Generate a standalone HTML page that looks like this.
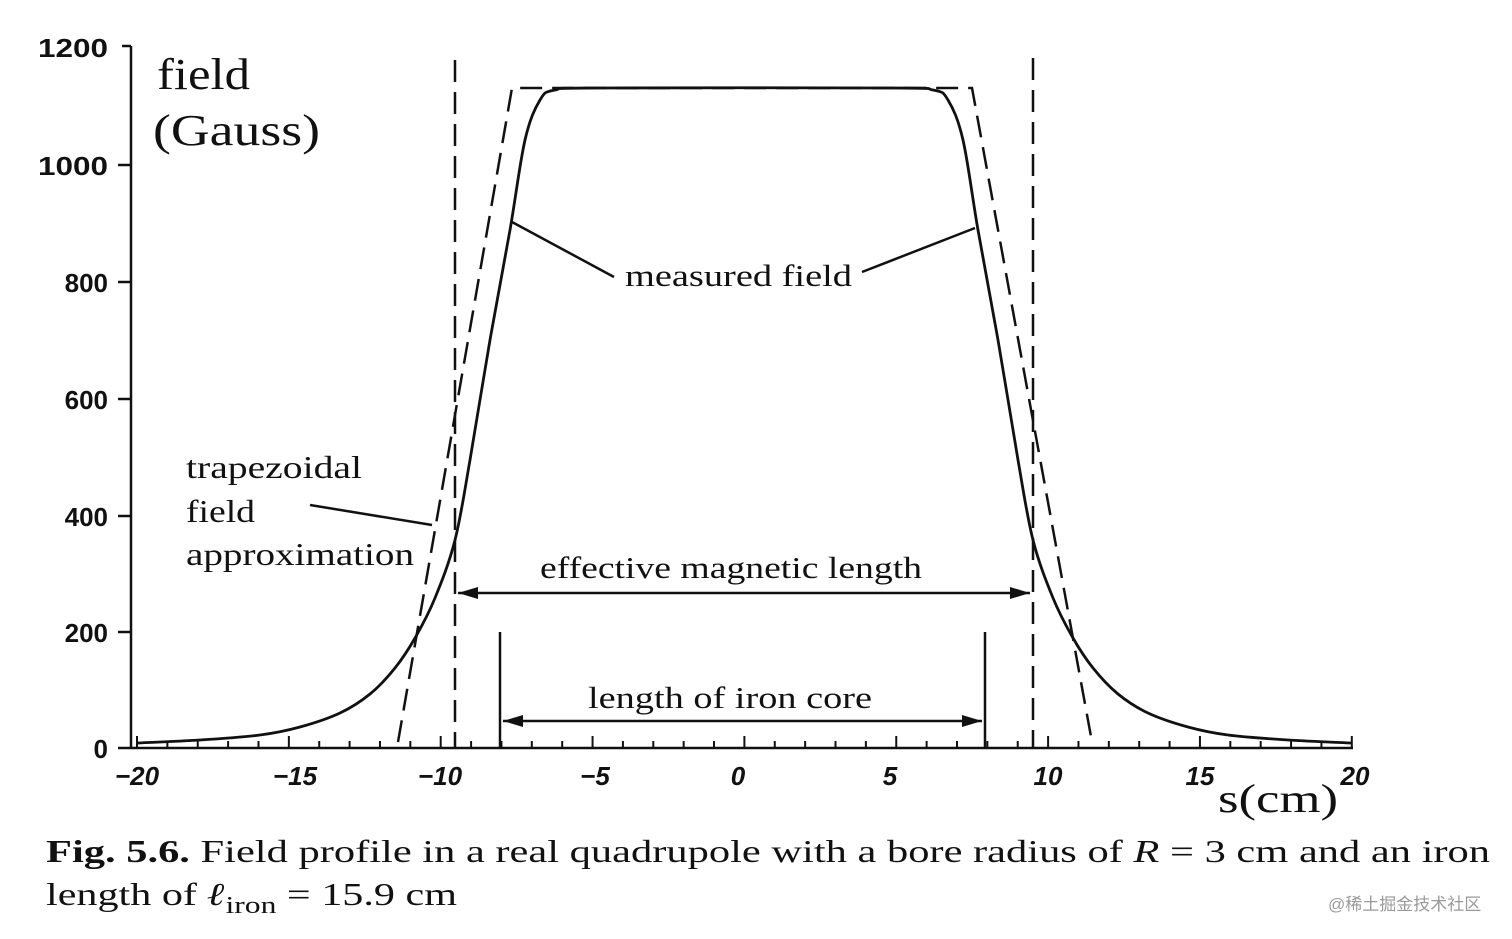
<!DOCTYPE html>
<html><head><meta charset="utf-8"><style>
html,body{margin:0;padding:0;background:#fff;}
svg{display:block}
.s{font-family:"Liberation Serif",serif;fill:#111}
.t{font-family:"Liberation Sans",sans-serif;fill:#111;font-size:26px}
</style></head><body>
<svg id="g" width="1512" height="939" viewBox="0 0 1512 939" xmlns="http://www.w3.org/2000/svg">
<rect width="1512" height="939" fill="#fff"/>
<g stroke="#111" stroke-width="2.5" fill="none">
<line x1="131" y1="46" x2="131" y2="749"/>
<line x1="118" y1="748" x2="1353" y2="748"/>
<line x1="131" y1="46" x2="122" y2="46"/>
<line x1="131" y1="165" x2="118" y2="165"/>
<line x1="131" y1="282" x2="118" y2="282"/>
<line x1="131" y1="399" x2="118" y2="399"/>
<line x1="131" y1="516" x2="118" y2="516"/>
<line x1="131" y1="632" x2="118" y2="632"/>
</g>
<g id="ticks" stroke="#111" stroke-width="2"></g>
<g class="t" text-anchor="end" font-weight="bold">
<text x="108" y="57" textLength="70" lengthAdjust="spacingAndGlyphs">1200</text><text x="108" y="175" textLength="70" lengthAdjust="spacingAndGlyphs">1000</text><text x="108" y="292">800</text>
<text x="108" y="409">600</text><text x="108" y="526">400</text><text x="108" y="642">200</text><text x="108" y="758">0</text>
</g>
<g class="t" text-anchor="middle" font-style="italic" font-weight="bold">
<text x="137" y="785">−20</text><text x="295" y="785">−15</text><text x="440" y="785">−10</text><text x="595" y="785">−5</text>
<text x="738" y="785">0</text><text x="890" y="785">5</text><text x="1048" y="785">10</text><text x="1200" y="785">15</text><text x="1355" y="785">20</text>
</g>
<g class="s" lengthAdjust="spacingAndGlyphs">
<text x="1218" y="812" font-size="40" textLength="120" lengthAdjust="spacingAndGlyphs">s(cm)</text>
<text x="157" y="89" font-size="44" textLength="93" lengthAdjust="spacingAndGlyphs">field</text>
<text x="153" y="145" font-size="44" textLength="167" lengthAdjust="spacingAndGlyphs">(Gauss)</text>
<text x="625" y="286" font-size="31" textLength="227" lengthAdjust="spacingAndGlyphs">measured  field</text>
<text x="186" y="478" font-size="32" textLength="176" lengthAdjust="spacingAndGlyphs">trapezoidal</text>
<text x="186" y="522" font-size="32" textLength="69" lengthAdjust="spacingAndGlyphs">field</text>
<text x="186" y="565" font-size="32" textLength="228" lengthAdjust="spacingAndGlyphs">approximation</text>
<text x="540" y="578" font-size="31" textLength="382" lengthAdjust="spacingAndGlyphs">effective  magnetic  length</text>
<text x="588" y="708" font-size="31" textLength="284" lengthAdjust="spacingAndGlyphs">length of iron core</text>
<text x="46" y="862" font-size="32" textLength="1444" lengthAdjust="spacingAndGlyphs"><tspan font-weight="bold">Fig. 5.6.</tspan> Field profile in a real quadrupole with a bore radius of <tspan font-style="italic">R</tspan> = 3 cm and an iron</text>
<text x="46" y="905" font-size="32" textLength="411" lengthAdjust="spacingAndGlyphs">length of <tspan font-style="italic" font-weight="bold">ℓ</tspan><tspan font-size="24" dy="8">iron</tspan><tspan dy="-8">  =  15.9  cm</tspan></text>
</g>
<text x="1328" y="910" font-family="Liberation Sans,'Noto Sans CJK SC',sans-serif" font-size="17" fill="#9a9a9a">@稀土掘金技术社区</text>
<g stroke="#111" stroke-width="2.5" fill="none">
<polyline points="398,742 512,88 972,88 1092,742" stroke-dasharray="22,10"/>
<line x1="455" y1="60" x2="455" y2="748" stroke-dasharray="22,10"/>
<line x1="1033" y1="58" x2="1033" y2="748" stroke-dasharray="22,10"/>
<line x1="500" y1="632" x2="500" y2="748"/>
<line x1="985" y1="632" x2="985" y2="748"/>
<line x1="458" y1="593" x2="1030" y2="593"/>
<line x1="503" y1="721" x2="982" y2="721"/>
<path d="M512,222 L614,277"/><path d="M862,272 L975,228"/>
<path d="M310,505 L432,525"/>
<path id="curve" stroke-width="2.8"/>
</g>
<g fill="#111">
<polygon points="458,593 478,587 478,599"/><polygon points="1030,593 1010,587 1010,599"/>
<polygon points="503,721 523,715 523,727"/><polygon points="982,721 962,715 962,727"/>
</g>
</svg>
<script>
var L=[[137,743],[200,740],[260,735],[300,727],[340,713],[370,694],[395,668],[415,638],[435,598],[455,540],[470,460],[490,340],[510,230],[525,140],[540,100],[555,90],[600,88]];
var P=L.slice();var R=L.slice().reverse().map(function(p){return [1488-p[0],p[1]];});
P=P.concat(R);
var d="M"+P[0][0]+","+P[0][1];
for(var i=0;i<P.length-1;i++){var p0=P[Math.max(0,i-1)],p1=P[i],p2=P[i+1],p3=P[Math.min(P.length-1,i+2)];
d+=" C"+(p1[0]+(p2[0]-p0[0])/6)+","+(p1[1]+(p2[1]-p0[1])/6)+" "+(p2[0]-(p3[0]-p1[0])/6)+","+(p2[1]-(p3[1]-p1[1])/6)+" "+p2[0]+","+p2[1];}
document.getElementById("curve").setAttribute("d",d);
var t="";for(var k=-20;k<=20;k++){var x=137+(k+20)*30.37;var h=(k%5==0)?12:7;t+='<line x1="'+x+'" y1="748" x2="'+x+'" y2="'+(748-h)+'"/>';}
document.getElementById("ticks").innerHTML=t;
</script>
</body></html>
